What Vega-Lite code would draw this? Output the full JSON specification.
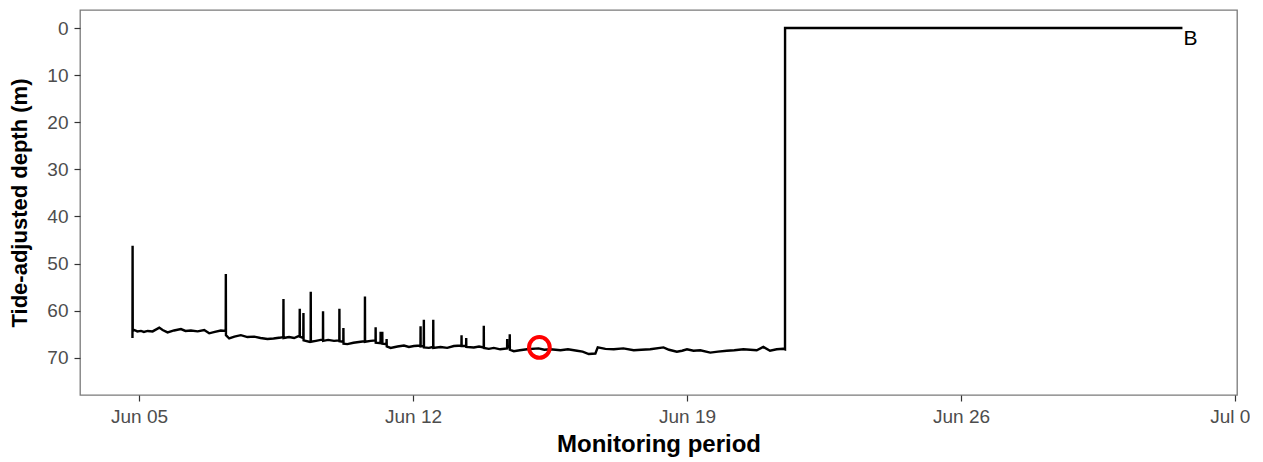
{
  "$schema": "https://vega.github.io/schema/vega-lite/v6.json",
  "autosize": {"type": "none"},
  "padding": {"left": 80, "top": 10, "right": 13, "bottom": 67},
  "width": 1157,
  "height": 385,
  "background": "white",
  "config": {
    "font": "Liberation Sans",
    "view": {"stroke": "#7a7a7a", "strokeWidth": 1.3},
    "axis": {
      "grid": false,
      "domain": false,
      "tickColor": "#333333",
      "tickWidth": 1.2,
      "tickSize": 6,
      "labelColor": "#4d4d4d",
      "labelFontSize": 19,
      "labelFont": "Liberation Sans",
      "titleFont": "Liberation Sans",
      "titleFontSize": 23,
      "titleFontWeight": "bold",
      "titleColor": "#000000"
    }
  },
  "datasets": {
    "series": [
      {"t": "2023-06-04T20:00", "depth": 65.8},
      {"t": "2023-06-04T20:05", "depth": 46.2},
      {"t": "2023-06-04T20:10", "depth": 64.3},
      {"t": "2023-06-04T21:09", "depth": 64.1},
      {"t": "2023-06-04T23:00", "depth": 64.4},
      {"t": "2023-06-05T01:13", "depth": 64.3},
      {"t": "2023-06-05T03:00", "depth": 64.5},
      {"t": "2023-06-05T05:18", "depth": 64.3},
      {"t": "2023-06-05T08:22", "depth": 64.4},
      {"t": "2023-06-05T12:27", "depth": 63.6},
      {"t": "2023-06-05T14:30", "depth": 64.1},
      {"t": "2023-06-05T17:32", "depth": 64.6},
      {"t": "2023-06-05T21:30", "depth": 64.2},
      {"t": "2023-06-06T01:43", "depth": 63.9},
      {"t": "2023-06-06T04:30", "depth": 64.3},
      {"t": "2023-06-06T07:50", "depth": 64.2},
      {"t": "2023-06-06T12:00", "depth": 64.4},
      {"t": "2023-06-06T16:00", "depth": 64.1},
      {"t": "2023-06-06T19:03", "depth": 64.8},
      {"t": "2023-06-06T22:30", "depth": 64.5},
      {"t": "2023-06-07T02:12", "depth": 64.2},
      {"t": "2023-06-07T05:10", "depth": 64.3},
      {"t": "2023-06-07T05:15", "depth": 52.2},
      {"t": "2023-06-07T05:20", "depth": 65.2},
      {"t": "2023-06-07T07:18", "depth": 65.9},
      {"t": "2023-06-07T10:30", "depth": 65.5},
      {"t": "2023-06-07T14:27", "depth": 65.2},
      {"t": "2023-06-07T18:30", "depth": 65.6},
      {"t": "2023-06-07T22:36", "depth": 65.5},
      {"t": "2023-06-08T02:30", "depth": 65.8},
      {"t": "2023-06-08T06:46", "depth": 66.0},
      {"t": "2023-06-08T10:30", "depth": 65.9},
      {"t": "2023-06-08T14:56", "depth": 65.7},
      {"t": "2023-06-08T16:30", "depth": 65.6},
      {"t": "2023-06-08T16:35", "depth": 57.5},
      {"t": "2023-06-08T16:40", "depth": 65.8},
      {"t": "2023-06-08T20:00", "depth": 65.6},
      {"t": "2023-06-08T23:07", "depth": 65.8},
      {"t": "2023-06-09T02:30", "depth": 65.3},
      {"t": "2023-06-09T02:34", "depth": 59.6},
      {"t": "2023-06-09T02:38", "depth": 65.5},
      {"t": "2023-06-09T04:45", "depth": 65.8},
      {"t": "2023-06-09T04:50", "depth": 60.5},
      {"t": "2023-06-09T04:55", "depth": 66.3},
      {"t": "2023-06-09T08:17", "depth": 66.6},
      {"t": "2023-06-09T09:15", "depth": 66.5},
      {"t": "2023-06-09T09:19", "depth": 56.0},
      {"t": "2023-06-09T09:23", "depth": 66.6},
      {"t": "2023-06-09T12:30", "depth": 66.4},
      {"t": "2023-06-09T15:26", "depth": 66.2},
      {"t": "2023-06-09T16:47", "depth": 66.2},
      {"t": "2023-06-09T16:51", "depth": 60.1},
      {"t": "2023-06-09T16:55", "depth": 66.4},
      {"t": "2023-06-09T20:00", "depth": 66.2},
      {"t": "2023-06-09T23:35", "depth": 66.4},
      {"t": "2023-06-10T02:50", "depth": 66.3},
      {"t": "2023-06-10T02:53", "depth": 59.6},
      {"t": "2023-06-10T02:57", "depth": 66.5},
      {"t": "2023-06-10T05:17", "depth": 66.6},
      {"t": "2023-06-10T05:20", "depth": 63.7},
      {"t": "2023-06-10T05:25", "depth": 67.0},
      {"t": "2023-06-10T07:45", "depth": 67.1},
      {"t": "2023-06-10T11:30", "depth": 66.8},
      {"t": "2023-06-10T15:55", "depth": 66.6},
      {"t": "2023-06-10T18:30", "depth": 66.5},
      {"t": "2023-06-10T18:33", "depth": 57.0},
      {"t": "2023-06-10T18:37", "depth": 66.6},
      {"t": "2023-06-10T22:02", "depth": 66.4},
      {"t": "2023-06-11T01:03", "depth": 66.3},
      {"t": "2023-06-11T01:06", "depth": 63.5},
      {"t": "2023-06-11T01:10", "depth": 66.8},
      {"t": "2023-06-11T04:06", "depth": 66.9},
      {"t": "2023-06-11T04:09", "depth": 64.5},
      {"t": "2023-06-11T04:13", "depth": 66.9},
      {"t": "2023-06-11T05:08", "depth": 66.9},
      {"t": "2023-06-11T05:11", "depth": 64.5},
      {"t": "2023-06-11T05:15", "depth": 67.0},
      {"t": "2023-06-11T07:47", "depth": 67.1},
      {"t": "2023-06-11T07:50", "depth": 66.0},
      {"t": "2023-06-11T07:55", "depth": 67.6},
      {"t": "2023-06-11T10:18", "depth": 67.9},
      {"t": "2023-06-11T14:30", "depth": 67.6},
      {"t": "2023-06-11T18:27", "depth": 67.4},
      {"t": "2023-06-11T21:30", "depth": 67.7},
      {"t": "2023-06-12T00:35", "depth": 67.5},
      {"t": "2023-06-12T04:36", "depth": 67.4},
      {"t": "2023-06-12T04:39", "depth": 63.3},
      {"t": "2023-06-12T04:42", "depth": 67.6},
      {"t": "2023-06-12T06:37", "depth": 67.5},
      {"t": "2023-06-12T06:40", "depth": 61.9},
      {"t": "2023-06-12T06:44", "depth": 67.8},
      {"t": "2023-06-12T09:45", "depth": 67.9},
      {"t": "2023-06-12T12:23", "depth": 67.7},
      {"t": "2023-06-12T12:26", "depth": 61.9},
      {"t": "2023-06-12T12:30", "depth": 67.9},
      {"t": "2023-06-12T16:54", "depth": 67.7},
      {"t": "2023-06-12T21:00", "depth": 67.9},
      {"t": "2023-06-13T01:03", "depth": 67.5},
      {"t": "2023-06-13T05:43", "depth": 67.4},
      {"t": "2023-06-13T05:46", "depth": 65.2},
      {"t": "2023-06-13T05:50", "depth": 67.5},
      {"t": "2023-06-13T08:35", "depth": 67.5},
      {"t": "2023-06-13T08:38", "depth": 65.8},
      {"t": "2023-06-13T08:42", "depth": 67.7},
      {"t": "2023-06-13T13:18", "depth": 67.8},
      {"t": "2023-06-13T16:30", "depth": 67.6},
      {"t": "2023-06-13T19:22", "depth": 67.8},
      {"t": "2023-06-13T19:25", "depth": 63.2},
      {"t": "2023-06-13T19:29", "depth": 67.9},
      {"t": "2023-06-13T22:30", "depth": 68.1},
      {"t": "2023-06-14T01:33", "depth": 67.9},
      {"t": "2023-06-14T05:30", "depth": 68.2},
      {"t": "2023-06-14T09:42", "depth": 68.0},
      {"t": "2023-06-14T09:45", "depth": 66.0},
      {"t": "2023-06-14T09:48", "depth": 67.8},
      {"t": "2023-06-14T11:17", "depth": 67.5},
      {"t": "2023-06-14T11:20", "depth": 65.0},
      {"t": "2023-06-14T11:24", "depth": 68.3},
      {"t": "2023-06-14T13:48", "depth": 68.6},
      {"t": "2023-06-14T17:30", "depth": 68.4},
      {"t": "2023-06-14T21:58", "depth": 68.2},
      {"t": "2023-06-15T05:00", "depth": 68.0},
      {"t": "2023-06-15T08:30", "depth": 68.3},
      {"t": "2023-06-15T12:15", "depth": 68.2},
      {"t": "2023-06-15T18:27", "depth": 68.4},
      {"t": "2023-06-15T23:00", "depth": 68.2},
      {"t": "2023-06-16T04:36", "depth": 68.5},
      {"t": "2023-06-16T08:00", "depth": 68.7},
      {"t": "2023-06-16T11:45", "depth": 69.2},
      {"t": "2023-06-16T15:50", "depth": 69.1},
      {"t": "2023-06-16T17:17", "depth": 67.8},
      {"t": "2023-06-16T22:00", "depth": 68.1},
      {"t": "2023-06-17T03:06", "depth": 68.2},
      {"t": "2023-06-17T09:00", "depth": 68.0},
      {"t": "2023-06-17T15:21", "depth": 68.4},
      {"t": "2023-06-17T20:00", "depth": 68.3},
      {"t": "2023-06-18T01:29", "depth": 68.2},
      {"t": "2023-06-18T09:36", "depth": 67.8},
      {"t": "2023-06-18T13:00", "depth": 68.3},
      {"t": "2023-06-18T17:47", "depth": 68.7},
      {"t": "2023-06-18T21:00", "depth": 68.5},
      {"t": "2023-06-19T00:00", "depth": 68.2},
      {"t": "2023-06-19T04:00", "depth": 68.5},
      {"t": "2023-06-19T08:09", "depth": 68.4},
      {"t": "2023-06-19T14:16", "depth": 68.9},
      {"t": "2023-06-19T19:00", "depth": 68.7},
      {"t": "2023-06-20T00:26", "depth": 68.5},
      {"t": "2023-06-20T05:00", "depth": 68.4},
      {"t": "2023-06-20T10:36", "depth": 68.2},
      {"t": "2023-06-20T18:46", "depth": 68.4},
      {"t": "2023-06-20T22:49", "depth": 67.7},
      {"t": "2023-06-21T02:54", "depth": 68.5},
      {"t": "2023-06-21T07:00", "depth": 68.2},
      {"t": "2023-06-21T11:03", "depth": 68.1},
      {"t": "2023-06-21T12:06", "depth": 68.2},
      {"t": "2023-06-21T12:08", "depth": 0},
      {"t": "2023-07-01T15:47", "depth": 0}
    ],
    "marker": [{"t": "2023-06-15T05:30", "depth": 67.8}],
    "label": [{"t": "2023-07-01T15:47", "depth": 0, "text": "B"}]
  },
  "encoding": {
    "x": {
      "field": "t",
      "type": "temporal",
      "scale": {
        "domain": [
          {"year": 2023, "month": 6, "date": 3, "hours": 11, "minutes": 50},
          {"year": 2023, "month": 7, "date": 3, "hours": 1, "minutes": 14}
        ],
        "nice": false
      },
      "axis": {
        "title": "Monitoring period",
        "titleFontSize": 24,
        "format": "%b %d",
        "labelPadding": 6,
        "titlePadding": 6,
        "values": [
          {"year": 2023, "month": 6, "date": 5},
          {"year": 2023, "month": 6, "date": 12},
          {"year": 2023, "month": 6, "date": 19},
          {"year": 2023, "month": 6, "date": 26},
          {"year": 2023, "month": 7, "date": 3}
        ]
      }
    },
    "y": {
      "field": "depth",
      "type": "quantitative",
      "scale": {"domain": [-3.83, 77.9], "reverse": true, "nice": false, "zero": false},
      "axis": {
        "title": "Tide-adjusted depth (m)",
        "titleFontSize": 22,
        "values": [0, 10, 20, 30, 40, 50, 60, 70],
        "labelPadding": 6,
        "titlePadding": 15
      }
    }
  },
  "layer": [
    {
      "data": {"name": "series"},
      "mark": {"type": "line", "color": "#000000", "strokeWidth": 2.4, "clip": true}
    },
    {
      "data": {"name": "marker"},
      "mark": {"type": "point", "shape": "circle", "filled": false, "stroke": "#ff0000", "strokeWidth": 4, "size": 430, "opacity": 1}
    },
    {
      "data": {"name": "label"},
      "mark": {"type": "text", "align": "left", "baseline": "alphabetic", "dx": 1, "dy": 17, "fontSize": 21, "color": "#000000", "font": "Liberation Sans"},
      "encoding": {"text": {"field": "text"}}
    }
  ]
}
